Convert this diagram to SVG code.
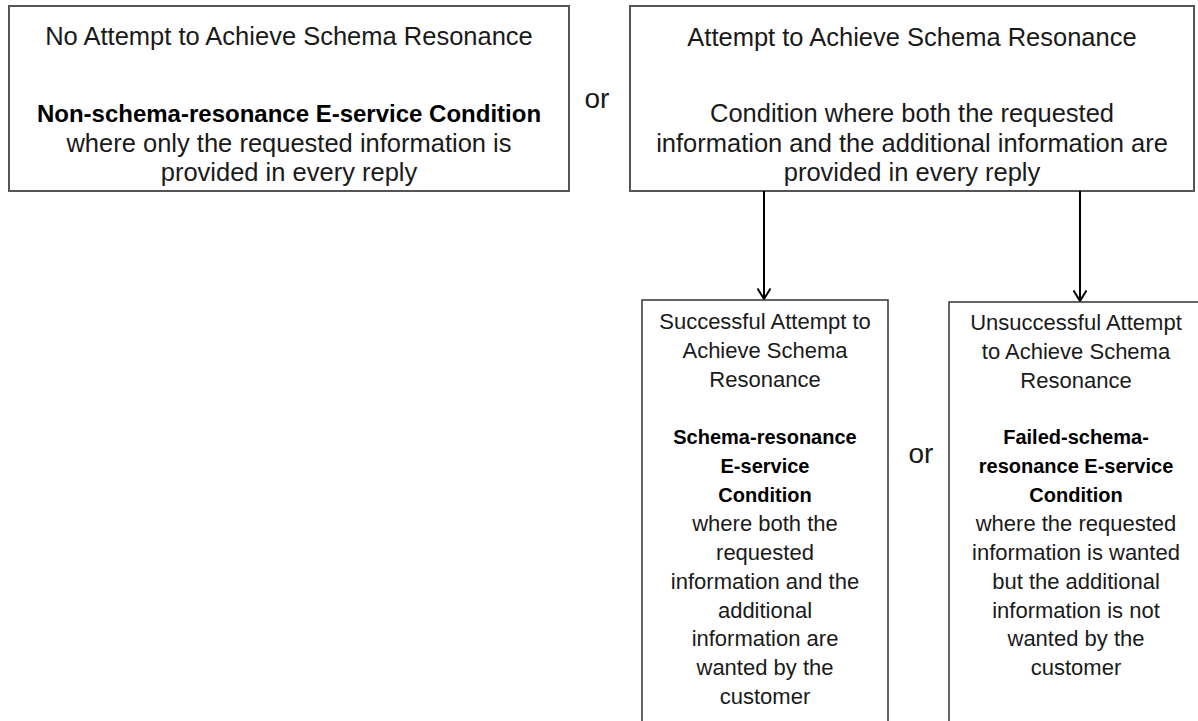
<svg xmlns="http://www.w3.org/2000/svg" width="1198" height="721" viewBox="0 0 1198 721">
  <style>
    .box { fill: #ffffff; stroke: #555555; stroke-width: 2; }
    .sbox { fill: #ffffff; stroke: #333333; stroke-width: 1.5; }
    text { font-family: "Liberation Sans", Arial, sans-serif; fill: #1a1a1a; text-anchor: middle; }
    .big { font-size: 25.5px; }
    .bigb { font-size: 24px; font-weight: bold; fill: #000; }
    .sm { font-size: 22px; }
    .smb { font-size: 20px; font-weight: bold; fill: #000; }
    .or { font-size: 28px; }
    .conn { stroke: #000; stroke-width: 2; fill: none; }
  </style>
  <defs>
    <marker id="arr" viewBox="0 0 12 14" refX="11" refY="7" markerWidth="12" markerHeight="14" markerUnits="userSpaceOnUse" orient="auto">
      <path d="M0.5,0.5 L11,7 L0.5,13.5" fill="none" stroke="#000" stroke-width="2"/>
    </marker>
  </defs>
  <rect width="1198" height="721" fill="#ffffff"/>

  <g id="node-no-attempt">
    <rect class="box" x="9" y="6" width="560" height="185"/>
    <text class="big" x="289" y="45">No Attempt to Achieve Schema Resonance</text>
    <text class="bigb" x="289" y="122">Non-schema-resonance E-service Condition</text>
    <text class="big" x="289" y="152">where only the requested information is</text>
    <text class="big" x="289" y="181">provided in every reply</text>
  </g>

  <g id="label-or-top">
    <text class="or" x="597" y="108">or</text>
  </g>

  <g id="node-attempt">
    <rect class="box" x="630" y="6" width="564" height="185"/>
    <text class="big" x="912" y="46">Attempt to Achieve Schema Resonance</text>
    <text class="big" x="912" y="122">Condition where both the requested</text>
    <text class="big" x="912" y="152">information and the additional information are</text>
    <text class="big" x="912" y="181">provided in every reply</text>
  </g>

  <g id="connectors">
    <line class="conn" x1="764" y1="191" x2="764" y2="299" marker-end="url(#arr)"/>
    <line class="conn" x1="1080" y1="191" x2="1080" y2="301" marker-end="url(#arr)"/>
  </g>

  <g id="node-successful">
    <rect class="sbox" x="642" y="300" width="246" height="440"/>
    <text class="sm" x="765" y="329">Successful Attempt to</text>
    <text class="sm" x="765" y="358">Achieve Schema</text>
    <text class="sm" x="765" y="387">Resonance</text>
    <text class="smb" x="765" y="444">Schema-resonance</text>
    <text class="smb" x="765" y="473">E-service</text>
    <text class="smb" x="765" y="502">Condition</text>
    <text class="sm" x="765" y="531">where both the</text>
    <text class="sm" x="765" y="560">requested</text>
    <text class="sm" x="765" y="589">information and the</text>
    <text class="sm" x="765" y="618">additional</text>
    <text class="sm" x="765" y="646">information are</text>
    <text class="sm" x="765" y="675">wanted by the</text>
    <text class="sm" x="765" y="704">customer</text>
  </g>

  <g id="label-or-middle">
    <text class="or" x="921" y="463">or</text>
  </g>

  <g id="node-unsuccessful">
    <rect class="sbox" x="949" y="302" width="256" height="440"/>
    <text class="sm" x="1076" y="330">Unsuccessful Attempt</text>
    <text class="sm" x="1076" y="359">to Achieve Schema</text>
    <text class="sm" x="1076" y="388">Resonance</text>
    <text class="smb" x="1076" y="444">Failed-schema-</text>
    <text class="smb" x="1076" y="473">resonance E-service</text>
    <text class="smb" x="1076" y="502">Condition</text>
    <text class="sm" x="1076" y="531">where the requested</text>
    <text class="sm" x="1076" y="560">information is wanted</text>
    <text class="sm" x="1076" y="589">but the additional</text>
    <text class="sm" x="1076" y="618">information is not</text>
    <text class="sm" x="1076" y="646">wanted by the</text>
    <text class="sm" x="1076" y="675">customer</text>
  </g>
</svg>
